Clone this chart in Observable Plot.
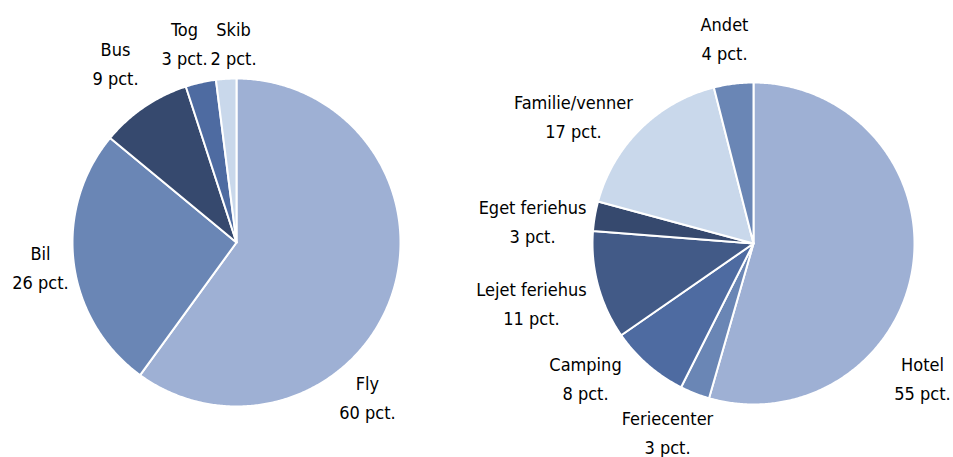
<!DOCTYPE html>
<html>
<head>
<meta charset="utf-8">
<script src="https://cdn.jsdelivr.net/npm/d3@7"></script>
<script src="https://cdn.jsdelivr.net/npm/@observablehq/plot@0.6"></script>
<style>
  html, body { margin: 0; padding: 0; background: #fff; }
  #chart { width: 953px; height: 457px; }
</style>
</head>
<body>
<div id="chart"></div>
<script>
// ---- data ----
const transportCategories = ["Fly", "Bil", "Bus", "Tog", "Skib"];
const transportValues = [60, 26, 9, 3, 2];
const stayCategories = ["Hotel", "Feriecenter", "Camping", "Lejet feriehus", "Eget feriehus", "Familie/venner", "Andet"];
const stayValues = [55, 3, 8, 11, 3, 17, 4];

// ---- styles ----
const transportColors = ["#9eb0d4", "#6a86b5", "#36496e", "#4e6ba1", "#c9d8eb"];
const stayColors = ["#9eb0d4", "#6a86b5", "#4e6ba1", "#425a87", "#36496e", "#c9d8eb", "#6a86b5"];

// ---- layout (pixel space) ----
const W = 953, H = 457;
const pies = [
  {key: "L", cats: transportCategories, vals: transportValues, colors: transportColors, cx: 236, cy: 242, r: 164,
   labels: [[367, 395], [40, 265], [115, 61], [184, 41], [233, 41]]},
  {key: "R", cats: stayCategories, vals: stayValues, colors: stayColors, cx: 753, cy: 243, r: 161,
   labels: [[922, 376], [667, 430], [585, 376], [531, 301], [532, 219], [573, 114], [724, 36]]}
];

const pts = [], labels = [], ids = [], fills = [];
for (const p of pies) {
  const arcs = d3.pie().sort(null).startAngle(0).endAngle(2 * Math.PI)(p.vals);
  arcs.forEach((a, i) => {
    const id = p.key + ":" + p.cats[i];
    ids.push(id); fills.push(p.colors[i]);
    pts.push({id, x: p.cx, y: p.cy});
    const n = Math.max(2, Math.ceil((a.endAngle - a.startAngle) / (Math.PI / 360)));
    for (let k = 0; k <= n; k++) {
      const t = a.startAngle + (a.endAngle - a.startAngle) * k / n;
      pts.push({id, x: p.cx + p.r * Math.sin(t), y: p.cy - p.r * Math.cos(t)});
    }
    pts.push({id, x: p.cx, y: p.cy});
    labels.push({x: p.labels[i][0], y: p.labels[i][1], text: p.cats[i] + "\n" + p.vals[i] + " pct."});
  });
}

const chart = Plot.plot({
  width: W, height: H,
  margin: 0,
  style: {background: "#fff", fontFamily: "'Liberation Sans Narrow', 'DejaVu Sans Condensed', sans-serif"},
  x: {domain: [0, W], range: [0, W], axis: null},
  y: {domain: [0, H], range: [0, H], axis: null},
  color: {domain: ids, range: fills},
  marks: [
    Plot.line(pts, {x: "x", y: "y", z: "id", fill: "id", stroke: "#fff", strokeWidth: 2, strokeLinejoin: "round", curve: "linear"}),
    Plot.text(labels, {x: "x", y: "y", text: "text", fill: "#000", fontSize: 18, lineHeight: 1.62, textAnchor: "middle"})
  ]
});
document.getElementById("chart").appendChild(chart);
</script>
</body>
</html>
